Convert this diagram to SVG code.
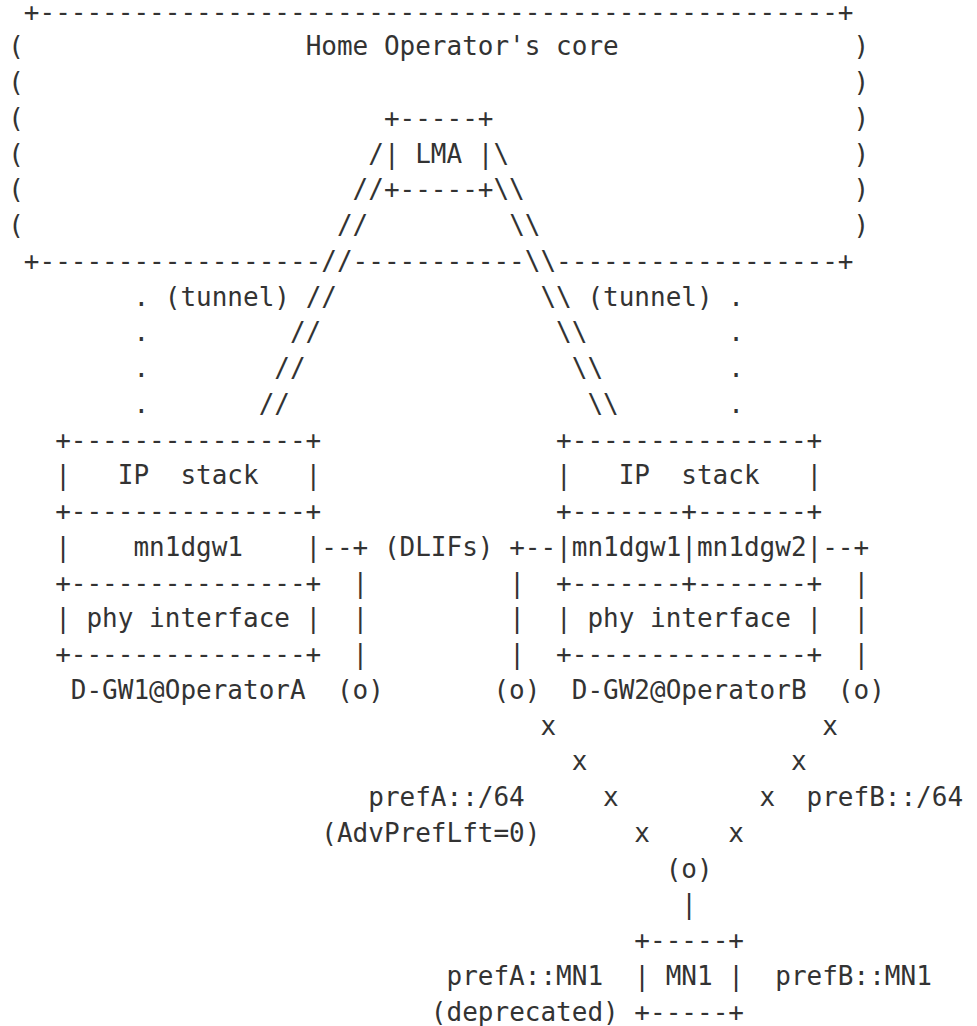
<svg xmlns="http://www.w3.org/2000/svg" width="977" height="1026" viewBox="0 0 977 1026" xml:space="preserve">
<style>
text { font-family: "DejaVu Sans Mono", "Liberation Mono", monospace; font-size: 26px; fill: #333333; white-space: pre; }
</style>
<rect x="0" y="0" width="977" height="1026" fill="#ffffff"/>
<g id="home-core">
<text x="23.85" y="20.7">+---------------------------------------------------+</text>
<text x="8.2" y="55.45">(</text><text x="305.63" y="55.45">Home Operator's core</text><text x="853.52" y="55.45">)</text>
<text x="8.2" y="91.2">(</text><text x="853.52" y="91.2">)</text>
<text x="8.2" y="126.95">(</text><text x="853.52" y="126.95">)</text>
<text x="8.2" y="162.7">(</text><text x="853.52" y="162.7">)</text>
<text x="8.2" y="198.45">(</text><text x="853.52" y="198.45">)</text>
<text x="8.2" y="234.2">(</text><text x="853.52" y="234.2">)</text>
<text x="23.85" y="269.95">+------------------</text><text x="352.59" y="269.95">-----------</text><text x="556.09" y="269.95">------------------+</text>
</g>
<g id="lma">
<text x="383.9" y="126.95">+-----+</text>
<text x="383.9" y="162.7">| LMA |</text>
<text x="383.9" y="198.45">+-----+</text>
</g>
<g id="dgw1">
<text x="55.16" y="448.7">+---------------+</text>
<text x="55.16" y="484.45">|   IP  stack   |</text>
<text x="55.16" y="520.2">+---------------+</text>
<text x="55.16" y="555.95">|    mn1dgw1    |</text>
<text x="55.16" y="591.7">+---------------+</text>
<text x="55.16" y="627.45">| phy interface |</text>
<text x="55.16" y="663.2">+---------------+</text>
<text x="70.82" y="698.95">D-GW1@OperatorA</text>
</g>
<g id="dgw2">
<text x="556.09" y="448.7">+---------------+</text>
<text x="556.09" y="484.45">|   IP  stack   |</text>
<text x="556.09" y="520.2">+-------+-------+</text>
<text x="556.09" y="555.95">|mn1dgw1|mn1dgw2|</text>
<text x="556.09" y="591.7">+-------+-------+</text>
<text x="556.09" y="627.45">| phy interface |</text>
<text x="556.09" y="663.2">+---------------+</text>
<text x="571.74" y="698.95">D-GW2@OperatorB</text>
</g>
<g id="mn1">
<text x="634.36" y="949.2">+-----+</text>
<text x="634.36" y="984.95">| MN1 |</text>
<text x="634.36" y="1020.7">+-----+</text>
</g>
<g id="labels">
<text x="368.24" y="806.2">prefA::/64</text>
<text x="806.55" y="806.2">prefB::/64</text>
<text x="321.28" y="841.95">(AdvPrefLft=0)</text>
<text x="446.51" y="984.95">prefA::MN1</text>
<text x="775.25" y="984.95">prefB::MN1</text>
<text x="430.86" y="1020.7">(deprecated)</text>
</g>
<g id="connectors">
<text x="368.24" y="162.7">/</text><text x="493.47" y="162.7">\</text>
<text x="352.59" y="198.45">//</text><text x="493.47" y="198.45">\\</text>
<text x="336.93" y="234.2">//</text><text x="509.13" y="234.2">\\</text>
<text x="321.28" y="269.95">//</text><text x="524.78" y="269.95">\\</text>
<text x="133.43" y="305.7">.</text><text x="164.74" y="305.7">(tunnel)</text><text x="305.63" y="305.7">//</text>
<text x="540.44" y="305.7">\\</text><text x="587.4" y="305.7">(tunnel)</text><text x="728.28" y="305.7">.</text>
<text x="133.43" y="341.45">.</text><text x="289.97" y="341.45">//</text><text x="556.09" y="341.45">\\</text><text x="728.28" y="341.45">.</text>
<text x="133.43" y="377.2">.</text><text x="274.32" y="377.2">//</text><text x="571.74" y="377.2">\\</text><text x="728.28" y="377.2">.</text>
<text x="133.43" y="412.95">.</text><text x="258.66" y="412.95">//</text><text x="587.4" y="412.95">\\</text><text x="728.28" y="412.95">.</text>
<text x="321.28" y="555.95">--+</text><text x="383.9" y="555.95">(DLIFs)</text><text x="509.13" y="555.95">+--</text><text x="822.21" y="555.95">--+</text>
<text x="352.59" y="591.7">|</text><text x="509.13" y="591.7">|</text><text x="853.52" y="591.7">|</text>
<text x="352.59" y="627.45">|</text><text x="509.13" y="627.45">|</text><text x="853.52" y="627.45">|</text>
<text x="352.59" y="663.2">|</text><text x="509.13" y="663.2">|</text><text x="853.52" y="663.2">|</text>
<text x="336.93" y="698.95">(o)</text><text x="493.47" y="698.95">(o)</text><text x="837.86" y="698.95">(o)</text>
<text x="540.44" y="734.7">x</text><text x="822.21" y="734.7">x</text>
<text x="571.74" y="770.45">x</text><text x="790.9" y="770.45">x</text>
<text x="603.05" y="806.2">x</text><text x="759.59" y="806.2">x</text>
<text x="634.36" y="841.95">x</text><text x="728.28" y="841.95">x</text>
<text x="665.67" y="877.7">(o)</text>
<text x="681.32" y="913.45">|</text>
</g>
</svg>
